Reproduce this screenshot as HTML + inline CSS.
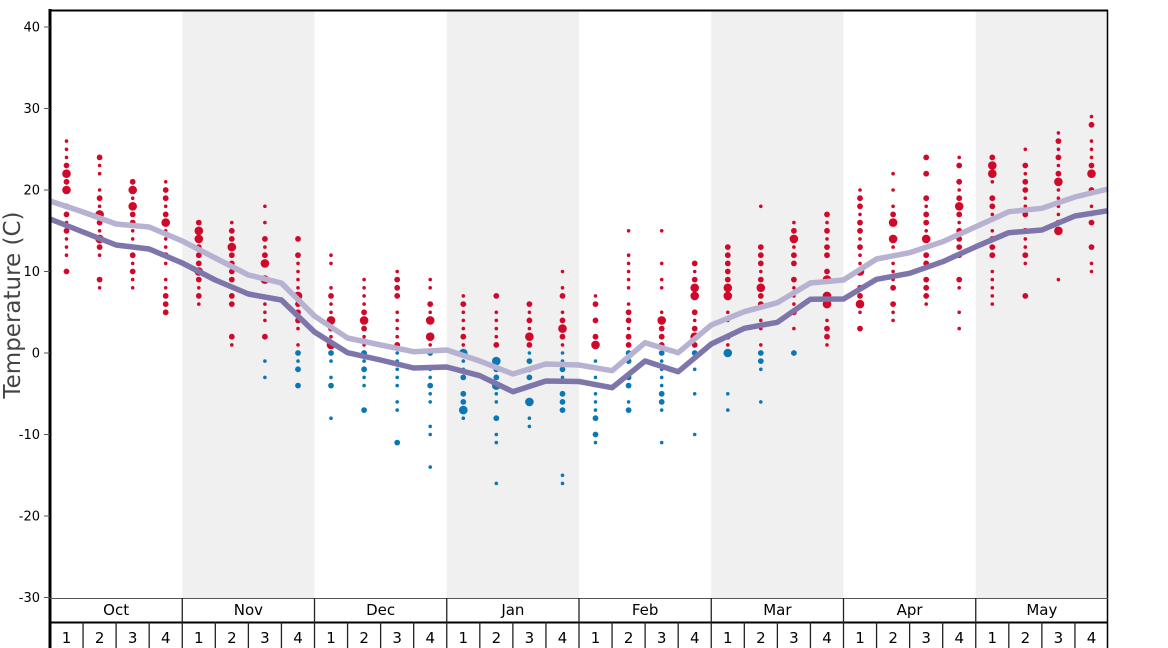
<!DOCTYPE html>
<html><head><meta charset="utf-8"><style>
html,body{margin:0;padding:0;background:#fff;}
svg{display:block;font-family:"DejaVu Sans","Liberation Sans",sans-serif;}
</style></head><body>
<svg id="c" width="1168" height="648" viewBox="0 0 1168 648" xmlns="http://www.w3.org/2000/svg">
<rect x="0" y="0" width="1168" height="648" fill="#fff"/>
<g id="bg"></g>
<g id="dots"></g>
<g id="lines"></g>
<g id="axes"></g>
<text x="20" y="305" transform="rotate(-90 20 305)" text-anchor="middle" font-size="23" fill="#444">Temperature (C)</text>
</svg>
<script>
var NS="http://www.w3.org/2000/svg";
function el(p,t,a,txt){var e=document.createElementNS(NS,t);for(var k in a)e.setAttribute(k,a[k]);if(txt!==undefined)e.textContent=txt;document.getElementById(p).appendChild(e);return e;}
var X0=50,X1=1108,MW=(X1-X0)/8,WW=MW/4;
function Y(t){return 353-t*8.15;}
// shaded months
for(var m=1;m<8;m+=2)el("bg","rect",{x:X0+m*MW,y:10,width:MW,height:588,fill:"#f0f0f0"});
var cols=[
"26s 25s 24s 23m 22l 21m 20l 18m 17m 16s 15m 14s 13s 12s 10m",
"24m 23s 22s 20s 19m 18s 17l 16m 15s 14l 13m 12s 9m 8s",
"21m 20l 19s 18l 17m 16m 15s 14s 13s 12m 11s 10m 9s 8s",
"21s 20m 19m 18s 17m 16l 15s 14s 13s 12m 11s 9s 8s 7m 6m 5m",
"16m 15l 14l 13m 12m 11m 10l 9m 8s 7m 6s",
"16s 15m 14m 13l 12m 11m 10m 9m 8s 7m 6m 2m 1s",
"18s 16s 14m 13s 12m 11l 9l 6s 5s 4s 2m -1s -3s",
"14m 12m 11s 10s 9s 8s 7l 6m 5m 4m 3s 1s 0m -1s -2m -4m",
"12s 11s 8s 7m 6s 5s 4l 3m 2s 1l 0m -1s -3s -4m -8s",
"9s 8s 7s 6s 5m 4l 3m 2s 1s 0m -1s -2m -3s -4s -7m",
"10s 9m 8m 7m 5s 4s 3s 2s 1m 0s -1s -2s -3s -4s -6s -7s -11m",
"9s 8s 6m 5s 4l 2l 1s 0m -2s -3s -4m -5s -6s -9s -10s -14s",
"7s 6m 5s 4s 3s 2m 1s 0l -1s -2s -3m -5m -6m -7l -8s",
"7m 5s 4s 3s 2s 1m -1l -2m -3m -4l -5s -6s -8m -10s -11s -16s",
"6m 5s 4m 3s 2l 1m 0s -1m -2m -3m -4s -6l -8s -9s",
"10s 8s 7m 5s 4m 3l 2m 1s 0s -1s -2m -3s -5m -6m -7m -15s -16s",
"7s 6m 4m 2m 1l -1s -3s -4s -5s -6s -7s -8m -10m -11s",
"15s 12s 11s 10s 9s 8s 6s 5m 4m 3s 2m 1m 0m -1m -3m -4m -6s -7m",
"15s 11s 9s 8s 5s 4l 3m 2m 1m 0m -1s -2s -3s -4s -5m -6m -7s -11s",
"11m 10s 9m 8l 7l 5m 4s 3m 2l 1m 0m -2s -5s -10s",
"13m 12m 11m 10m 9m 8l 7l 5s 4s 2m 1s 0l -5s -7s",
"18s 13m 12m 11m 10s 9m 8l 7m 6m 4s 3s 1s 0m -1m -2s -6s",
"16s 15m 14l 13s 12m 11m 9m 8s 7s 6s 5m 3s 0m",
"17m 16s 15m 14s 13m 12m 10m 9l 7l 6l 4s 3m 2m 1s",
"20s 19m 18m 17s 16m 15m 14s 13m 12s 11s 10l 8m 7m 6l 5s 3m",
"22s 20s 18s 17m 16l 14l 13s 12s 11s 10s 9s 8m 6m 5s 4s",
"24m 22m 19m 18s 17m 16m 15s 14l 13s 12m 11m 9m 8m 7m 6s",
"24s 23m 21m 20s 19m 18l 17m 16s 15m 14m 13m 12m 9m 8s 5s 3s",
"24m 23l 22l 21s 19m 18m 17s 15s 14m 13m 12m 10s 9s 8s 7s 6s",
"25s 23m 22s 21m 20m 19s 18s 17m 15m 14s 13s 12m 11s 7m",
"27s 26m 25s 24m 23s 22m 21l 20s 19s 18s 17s 16m 15l 9s",
"29s 28m 26s 25s 24s 23m 22l 20m 18s 17s 16m 13m 11s 10s"];
var R={s:1.8,m:2.9,l:4.3};
cols.forEach(function(c,i){var cx=X0+WW*(i+0.5);c.split(" ").forEach(function(d){var sz=d.slice(-1),t=parseFloat(d);el("dots","circle",{cx:cx.toFixed(1),cy:Y(t).toFixed(1),r:R[sz],fill:t>0?"#d0092a":"#0b77b6"});});});
var light=[201,212,224,227,241,258,275,283,316,338,345,351.7,350,361,374,364,365,370.7,342.7,352.7,325,311.7,302.7,283,280,259,252.7,241.7,226.7,211.7,208.3,197,189];
var dark=[219,232,245,249,263,280,294,300,332,352.7,360,368,367,375.7,391.7,381,381.5,387.7,361,371.7,344,328.3,322.3,299.3,299,279.3,273.3,261.7,246.7,232.7,230,216,210.7];
function pts(a){return a.map(function(y,k){return (X0+k*WW).toFixed(1)+","+y;}).join(" ");}
el("lines","polyline",{points:pts(light),fill:"none",stroke:"#b7b2d1","stroke-width":5.5,"stroke-linejoin":"round"});
el("lines","polyline",{points:pts(dark),fill:"none",stroke:"#7e76aa","stroke-width":5.5,"stroke-linejoin":"round"});
// axes
el("axes","line",{x1:50,y1:10.5,x2:1108,y2:10.5,stroke:"#000","stroke-width":2});
el("axes","line",{x1:1107.5,y1:10,x2:1107.5,y2:648,stroke:"#000","stroke-width":1.5});
el("axes","line",{x1:50,y1:9,x2:50,y2:648,stroke:"#000","stroke-width":3});
el("axes","line",{x1:50,y1:598.5,x2:1108,y2:598.5,stroke:"#555","stroke-width":1});
el("axes","line",{x1:50,y1:622.5,x2:1108,y2:622.5,stroke:"#000","stroke-width":2});
for(var t=-30;t<=40;t+=10){var y=Y(t);el("axes","line",{x1:44,y1:y,x2:50,y2:y,stroke:"#555","stroke-width":1});el("axes","text",{x:40,y:y+4.5,"text-anchor":"end","font-size":13,fill:"#000"},String(t));}
var mn=["Oct","Nov","Dec","Jan","Feb","Mar","Apr","May"];
for(var m=0;m<8;m++){var x=X0+m*MW;if(m>0)el("axes","line",{x1:x,y1:598,x2:x,y2:648,stroke:"#222","stroke-width":1.3});el("axes","text",{x:x+MW/2,y:615,"text-anchor":"middle","font-size":15,fill:"#000"},mn[m]);
for(var w=0;w<4;w++){var wx=x+w*WW;if(w>0)el("axes","line",{x1:wx,y1:622,x2:wx,y2:648,stroke:"#222","stroke-width":1.3});el("axes","text",{x:wx+WW/2,y:643,"text-anchor":"middle","font-size":15,fill:"#000"},String(w+1));}}
</script>
</body></html>
